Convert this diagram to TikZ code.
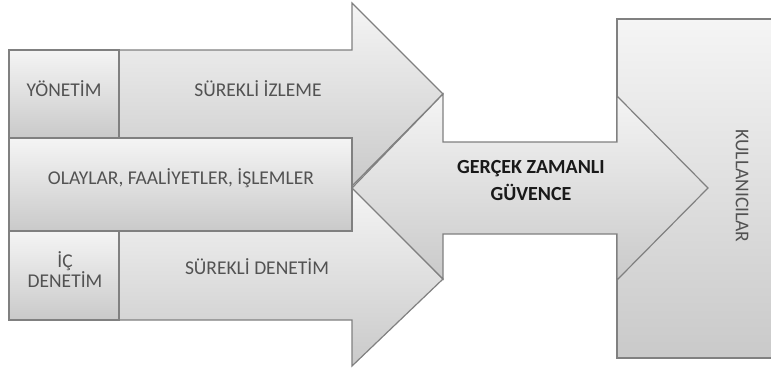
\documentclass[tikz,border=0pt]{standalone}
\usepackage{fontspec}
\setmainfont{Carlito}
\begin{document}
\begin{tikzpicture}[x=1pt,y=-1pt,
  panel/.style={draw=black!50, line width=1.2pt, line join=miter,
    top color=black!4, bottom color=black!21},
  label/.style={text=black!68, font=\fontsize{19.5}{22}\selectfont, align=center, inner sep=0pt},
  boldlabel/.style={text=black!90, font=\bfseries\fontsize{20}{27}\selectfont, align=center, inner sep=0pt}]
\useasboundingbox (0,0) rectangle (771,370);
\clip (0,0) rectangle (771,370);

% upper arrow: continuous monitoring
\path[panel] (9,50) -- (352,50) -- (352,3) -- (443,94) -- (352,186) -- (352,138) -- (9,138) -- cycle;
% lower arrow: continuous auditing
\path[panel] (9,231) -- (352,231) -- (352,187) -- (443,279) -- (352,366) -- (352,320) -- (9,320) -- cycle;

% left-hand boxes
\path[panel] (9,50) rectangle (119,138);
\path[panel] (9,231) rectangle (119,320);
\path[panel] (9,138) rectangle (352,231);

% users block
\path[panel] (617,19) rectangle (790,358);

% double-headed arrow: real-time assurance
\path[panel] (352,188) -- (443,94) -- (443,142) -- (617,142) -- (617,96)
  -- (708,188) -- (617,280) -- (617,234) -- (443,234) -- (443,279) -- cycle;

% labels
\node[label] (yon) at (64,89) {YÖNETİM};
\node[label] (izl) at (258,89) {SÜREKLİ İZLEME};
\node[label] (ola) at (181,178) {OLAYLAR, FAALİYETLER, İŞLEMLER};
\node[label, font=\fontsize{19.5}{20}\selectfont] (ic) at (65,270) {İÇ\\DENETİM};
\node[label] (den) at (257,267) {SÜREKLİ DENETİM};
\node[boldlabel] (guv) at (531,181) {GERÇEK ZAMANLI\\GÜVENCE};
\node[label, rotate=-90] (kul) at (742,186) {KULLANICILAR};
\end{tikzpicture}
\end{document}
